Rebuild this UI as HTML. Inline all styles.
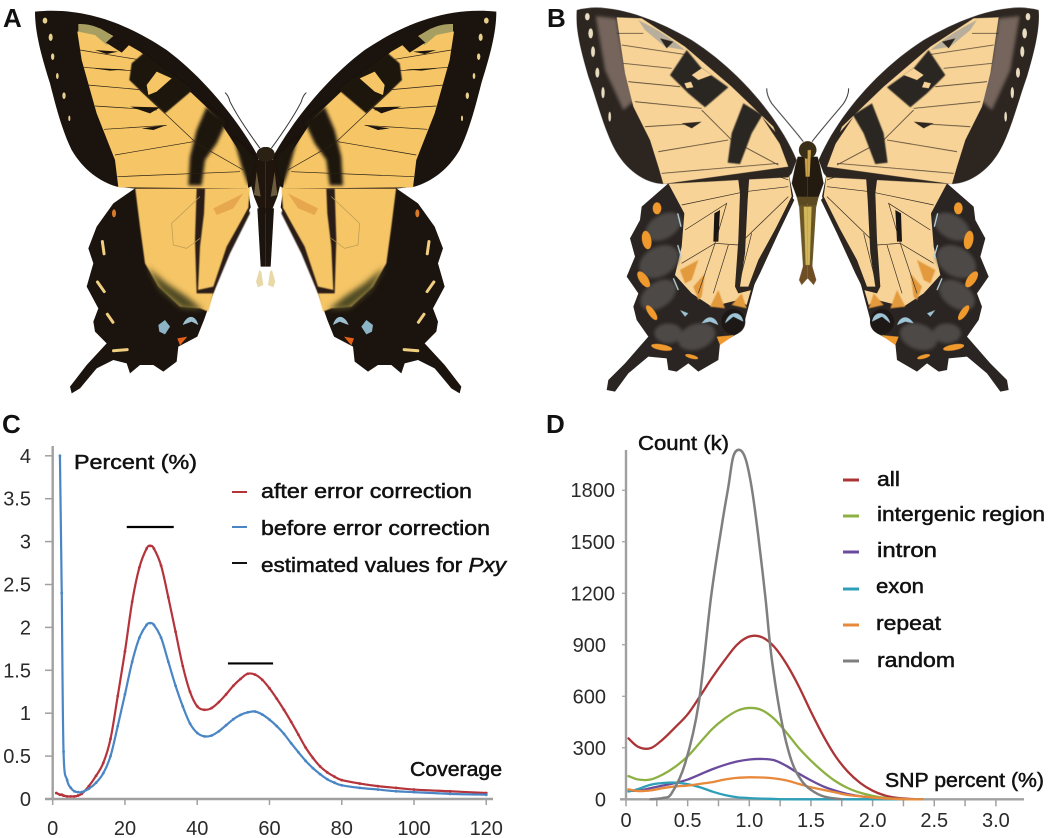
<!DOCTYPE html>
<html lang="en">
<head>
<meta charset="utf-8">
<title>Swallowtail butterflies with coverage and SNP charts</title>
<style>
html,body{margin:0;padding:0;background:#fff;}
svg{display:block;}
text{font-family:"Liberation Sans",sans-serif;fill:#1c1c1c;}
.lbl{font-size:20px;fill:#111;stroke:#111;stroke-width:.5px;}
.tick{font-size:20px;fill:#2a2a2a;}
.panel{font-size:26px;font-weight:bold;fill:#111;}
</style>
</head>
<body>
<svg id="fig" xmlns="http://www.w3.org/2000/svg" width="1050" height="838" viewBox="0 0 1050 838">
<defs>
<filter id="soft" x="-20%" y="-20%" width="140%" height="140%"><feGaussianBlur stdDeviation="5"/></filter>
<filter id="soft2" x="-10%" y="-10%" width="120%" height="120%"><feGaussianBlur stdDeviation="1.2"/></filter>
<filter id="soft3" x="-30%" y="-30%" width="160%" height="160%"><feGaussianBlur stdDeviation="9"/></filter>

<g id="half-a">
  <path fill="#1b130e" d="M405,565 L745,570 L752,622 L690,730 L640,880 L612,960 L592,1010 L535,1040 L530,1085 L490,1115 L460,1095 L420,1095 L390,1120 L380,1090 L340,1080 L290,1105 L240,1165 L215,1180 L210,1160 L260,1095 L320,1030 L285,995 L280,965 L295,925 L260,860 L280,790 L265,745 L290,680 L340,610Z"/>
  <path fill="#f5c566" filter="url(#soft2)" d="M405,560 L750,560 L745,625 L690,730 L640,880 L625,935 L600,925 L540,920 L475,860 L435,790 L420,680Z"/>
  <path fill="#4d4a20" filter="url(#soft3)" d="M440,800 L480,870 L545,925 L610,930 L560,890 L500,850Z"/>
  <path fill="#2a1d12" filter="url(#soft2)" d="M590,566 L615,566 L612,640 L600,740 L594,870 L640,860 L680,740 L745,625 L750,640 L690,760 L640,880 L590,880 L585,720Z"/>
  <path fill="none" stroke="#b89a55" stroke-width="2" d="M515,670 L520,735 L560,745 L600,715 M515,670 L600,590"/>
  <path fill="#e7a74f" d="M640,625 L730,580 L700,625 L650,645Z M670,550 L710,550 L680,568Z"/>
  <g fill="#f0cf80">
    <rect x="305" y="720" width="9" height="46" rx="4" transform="rotate(-8 310 742)"/>
    <rect x="298" y="838" width="9" height="44" rx="4" transform="rotate(-35 303 860)"/>
    <rect x="326" y="936" width="9" height="38" rx="4" transform="rotate(-35 330 955)"/>
    <rect x="358" y="1026" width="9" height="50" rx="4" transform="rotate(85 362 1050)"/>
  </g>
  <ellipse cx="342" cy="640" rx="6" ry="12" fill="#d97a2b"/>
  <path fill="#8db4c6" d="M475,975 L495,960 L510,980 L495,1003 L478,995Z"/>
  <path fill="#9cc0d0" d="M548,975 C560,945 585,940 595,975 L575,965Z"/>
  <path fill="#e5611a" d="M532,1015 L562,1010 L540,1036Z"/>

  <path fill="#1b130e" d="M105,35 C250,20 380,70 500,150 C620,240 720,370 775,470 L772,550 L740,566 L405,566 L350,560 C300,545 250,510 215,450 C190,400 170,330 150,250 C125,170 105,100 105,35Z"/>
  <path fill="#f5c566" d="M232,95 L300,85 L420,155 L560,265 L650,350 L735,480 L745,566 L355,562 L345,480 L290,340 L245,180Z"/>
  <path fill="#a79f62" d="M235,72 C285,70 320,95 345,115 L320,135 L285,105 L235,95Z"/>
  <path fill="#1b130e" d="M340,108 L392,130 L365,158 L318,128Z"/>
  <path fill="#1b130e" filter="url(#soft2)" d="M430,160 L520,225 L580,268 L495,340 L430,280 L388,240 L395,190Z"/>
  <path fill="#f5c566" d="M440,255 L470,215 L515,235 L470,275 L445,285Z"/>
  <path fill="#1b130e" filter="url(#soft)" d="M620,320 L680,365 L650,430 L615,480 L605,556 L565,556 L570,470 L590,390Z"/>
  <path fill="#1b130e" filter="url(#soft)" d="M700,410 L770,480 L745,556 L725,500Z"/>
  <path fill="none" stroke="#2a2015" stroke-width="2" d="M240,150 L410,178 M246,202 L395,212 M262,255 L432,270 M285,318 L470,330 M312,388 L500,376 M345,465 L580,425 M352,530 L720,515 M420,270 L590,430 L730,510"/>
  <path fill="#1b130e" d="M390,320 L480,322 L450,340Z M425,385 L500,375 L460,390Z M285,150 L355,155 L320,162Z M280,205 L380,208 L330,212Z"/>
  <g fill="#e7cf8c"><ellipse cx="135" cy="62" rx="7" ry="9"/><ellipse cx="152" cy="112" rx="6" ry="11"/><ellipse cx="158" cy="170" rx="5" ry="10"/><ellipse cx="172" cy="228" rx="4" ry="9"/><ellipse cx="192" cy="287" rx="5" ry="10"/><ellipse cx="208" cy="355" rx="3" ry="8"/></g>

  <path fill="#1f150d" d="M772,480 L797,470 L797,640 L778,630 L762,590 L752,550 L765,510Z"/>
  <ellipse cx="797" cy="463" rx="27" ry="22" fill="#2a2114"/>
  <path fill="#6b5c3e" d="M770,515 L782,590 L762,585Z"/>
  <path fill="#1b130e" d="M772,625 L797,625 L797,800 L782,800Z"/>
  <path fill="#e8d9a8" d="M778,810 L768,845 L774,862 L790,855 L784,815Z"/>
  <path fill="none" stroke="#333" stroke-width="3" d="M780,445 C740,390 705,335 690,305 C686,290 680,282 675,278"/>
</g>

<g id="half-b">
  <path fill="#2a2522" d="M430,550 L790,515 L805,590 L760,680 L700,810 L660,960 L640,1000 L585,1030 L580,1080 L520,1115 L490,1090 L455,1115 L430,1110 L425,1075 L370,1070 L310,1120 L270,1175 L245,1170 L250,1140 L300,1090 L370,1010 L335,960 L325,920 L340,880 L305,830 L330,770 L315,715 L345,660 L350,620Z"/>
  <path fill="#f7d397" d="M430,550 L790,515 L800,590 L755,680 L695,810 L665,915 L640,900 L560,920 L500,880 L450,825 L470,740 L478,640Z"/>
  <g fill="#e39a3c" filter="url(#soft2)"><path d="M465,810 L520,780 L500,840 L480,850Z"/><path d="M505,860 L540,820 L530,890 L520,900Z"/><path d="M555,920 L580,870 L600,925Z"/><path d="M620,915 L650,880 L665,925Z"/></g>
  <path fill="#2c2520" d="M635,500 L675,500 L668,600 L660,760 L645,860 L670,860 L700,780 L755,680 L800,590 L808,600 L760,700 L705,820 L680,870 L640,880 L630,860 L640,720 L645,580Z"/>
  <path fill="#1a1512" d="M568,640 L585,630 L580,725 L565,725Z"/>
  <path fill="none" stroke="#33291f" stroke-width="2" d="M430,550 L680,500 L790,540 M470,615 L660,575 L790,560 M480,690 L605,610 L570,730 L640,735 L790,590 M470,790 L570,730 L520,880 M610,735 L565,880 M680,700 L640,860"/>
  <g fill="#4e4a47" filter="url(#soft)">
    <ellipse cx="415" cy="680" rx="58" ry="36" transform="rotate(-30 415 680)"/>
    <ellipse cx="402" cy="785" rx="64" ry="44" transform="rotate(-30 402 785)"/>
    <ellipse cx="400" cy="885" rx="60" ry="38" transform="rotate(-35 400 885)"/>
    <ellipse cx="515" cy="1010" rx="58" ry="38" transform="rotate(-20 515 1010)"/>
    <ellipse cx="430" cy="1000" rx="42" ry="30"/>
  </g>
  <path fill="none" stroke="#b9d4e0" stroke-width="4" d="M458,640 L468,680 M458,735 L470,775 M445,835 L460,870"/>
  <g fill="#f09a2e">
    <ellipse cx="396" cy="625" rx="13" ry="18"/>
    <ellipse cx="365" cy="720" rx="14" ry="28" transform="rotate(-10 365 720)"/>
    <ellipse cx="356" cy="838" rx="13" ry="28" transform="rotate(-35 356 838)"/>
    <ellipse cx="380" cy="938" rx="10" ry="26" transform="rotate(-35 380 938)"/>
    <ellipse cx="410" cy="1042" rx="32" ry="9" transform="rotate(10 410 1042)"/>
    <ellipse cx="500" cy="1070" rx="20" ry="6" transform="rotate(15 500 1070)"/>
    <path d="M575,1010 L628,1005 L585,1035Z"/>
  </g>
  <ellipse cx="625" cy="965" rx="36" ry="38" fill="#1d1815"/>
  <path fill="#9fc4d6" d="M600,970 C610,930 650,930 655,965 L625,950Z"/>
  <path fill="#9fc4d6" d="M530,970 C545,945 570,945 580,975 L555,965Z M465,930 L490,940 L480,950Z"/>

  <path fill="#2c2520" d="M155,30 C250,5 380,50 500,120 C640,210 760,350 815,480 L800,520 L790,532 L415,552 C360,550 300,510 265,440 C235,380 215,300 190,230 C170,160 150,90 155,30Z"/>
  <path fill="#75655b" filter="url(#soft)" d="M212,48 L275,55 L300,200 L330,300 L295,330 L240,210Z"/>
  <path fill="#f7d397" d="M275,52 L350,55 L480,140 L620,260 L745,380 L790,500 L415,552 L400,500 L375,420 L325,320 L300,220Z"/>
  <path fill="#b8ae9c" d="M340,60 C400,90 430,110 480,150 L420,140 L360,90Z"/>
  <path fill="#2c2520" d="M405,115 L445,125 L425,145Z"/>
  <path fill="#2c2520" filter="url(#soft2)" d="M485,150 L530,205 L610,262 L540,322 L490,280 L435,225Z"/>
  <path fill="#f7d397" d="M500,225 L530,205 L560,225 L520,240Z M478,250 L498,245 L505,262 L485,265Z"/>
  <path fill="#2c2520" filter="url(#soft2)" d="M655,310 L712,345 L680,400 L645,492 L608,488 L620,400Z"/>
  <path fill="#2c2520" d="M710,350 L790,440 L812,490 L770,440Z"/>
  <path fill="none" stroke="#33291f" stroke-width="2" d="M275,100 L355,100 M290,135 L490,165 M295,190 L440,205 M310,245 L465,260 M330,305 L530,325 M360,380 L520,370 M400,455 L610,420 M410,520 L760,490 M530,330 L620,420 L760,495"/>
  <path fill="#2c2520" d="M470,370 L530,365 L500,385Z"/>
  <g fill="#e9dcc0"><ellipse cx="187" cy="50" rx="7" ry="11"/><ellipse cx="197" cy="100" rx="7" ry="15"/><ellipse cx="204" cy="155" rx="6" ry="16"/><ellipse cx="217" cy="218" rx="6" ry="15"/><ellipse cx="234" cy="278" rx="5" ry="17"/><ellipse cx="254" cy="350" rx="4" ry="15"/></g>

  <path fill="#231a10" d="M818,470 L848,470 L848,610 L822,610 L800,550 L810,500Z"/>
  <ellipse cx="848" cy="450" rx="26" ry="26" fill="#3a2e18"/>
  <path fill="#c9a24a" d="M838,450 L848,450 L848,530 L842,530Z"/>
  <path fill="#5c4a22" d="M815,590 L848,590 L848,620 L822,620Z"/>
  <path fill="#6a5526" d="M822,615 L848,615 L848,800 L834,800Z"/>
  <path fill="#d2b75c" d="M836,620 L848,620 L848,800 L842,800Z"/>
  <path fill="#6f4d25" d="M835,795 L822,840 L830,855 L848,835 L848,795Z"/>
  <path fill="none" stroke="#333" stroke-width="3" d="M835,425 C800,380 760,335 740,310 C730,295 725,280 725,265"/>
</g>
</defs>

<text class="panel" x="3" y="27">A</text>
<text class="panel" x="547" y="27">B</text>
<text class="panel" x="2" y="433">C</text>
<text class="panel" x="546" y="433">D</text>

<g transform="scale(.33333)">
  <use href="#half-a"/>
  <use href="#half-a" transform="translate(1594,0) scale(-1,1)"/>
</g>
<g transform="translate(525,0) scale(.33333)">
  <use href="#half-b"/>
  <use href="#half-b" transform="translate(1696,0) scale(-1,1)"/>
</g>

<g id="chart-c"></g>
<g id="chart-d"></g>

<text class="lbl" x="74" y="469" textLength="123" lengthAdjust="spacingAndGlyphs">Percent (%)</text>
<text class="lbl" x="410" y="776" textLength="92" lengthAdjust="spacingAndGlyphs">Coverage</text>
<g>
  <line x1="232" x2="247" y1="492" y2="492" stroke="#b5343c" stroke-width="2"/>
  <text class="lbl" x="261" y="498" textLength="211" lengthAdjust="spacingAndGlyphs">after error correction</text>
  <line x1="232" x2="247" y1="527" y2="527" stroke="#4a86c5" stroke-width="2"/>
  <text class="lbl" x="261" y="535" textLength="229" lengthAdjust="spacingAndGlyphs">before error correction</text>
  <line x1="232" x2="247" y1="563" y2="563" stroke="#111" stroke-width="2"/>
  <text class="lbl" x="261" y="572" textLength="245" lengthAdjust="spacingAndGlyphs">estimated values for <tspan font-style="italic">Pxy</tspan></text>
</g>

<text class="lbl" x="638" y="450" textLength="91" lengthAdjust="spacingAndGlyphs">Count (k)</text>
<text class="lbl" x="885" y="787" textLength="159" lengthAdjust="spacingAndGlyphs">SNP percent (%)</text>
<g>
  <line x1="843" x2="859" y1="480" y2="480" stroke="#ab3436" stroke-width="3"/>
  <text class="lbl" x="877" y="486" textLength="23" lengthAdjust="spacingAndGlyphs">all</text>
  <line x1="843" x2="859" y1="516" y2="516" stroke="#8db042" stroke-width="3"/>
  <text class="lbl" x="877" y="521" textLength="168" lengthAdjust="spacingAndGlyphs">intergenic region</text>
  <line x1="843" x2="859" y1="552" y2="552" stroke="#6a4b9c" stroke-width="3"/>
  <text class="lbl" x="877" y="557" textLength="60" lengthAdjust="spacingAndGlyphs">intron</text>
  <line x1="843" x2="859" y1="589" y2="589" stroke="#2f9fb8" stroke-width="3"/>
  <text class="lbl" x="876" y="593" textLength="48" lengthAdjust="spacingAndGlyphs">exon</text>
  <line x1="843" x2="859" y1="625" y2="625" stroke="#e8883a" stroke-width="3"/>
  <text class="lbl" x="876" y="630" textLength="65" lengthAdjust="spacingAndGlyphs">repeat</text>
  <line x1="843" x2="859" y1="661" y2="661" stroke="#7f7f7f" stroke-width="3"/>
  <text class="lbl" x="877" y="667" textLength="78" lengthAdjust="spacingAndGlyphs">random</text>
</g>
</svg>

<script>
var coverageValues = [1,2,2.5,3,4,5,6,7,8,10,12,14,16,18,20,22,24,26,27,28,30,32,34,36,38,40,42,44,46,48,50,52,54,56,58,60,62,64,66,68,70,72,74,76,78,80,85,90,95,100,110,120];
var afterCorrection = [0.07,0.05,0.05,0.04,0.03,0.03,0.03,0.04,0.06,0.15,0.27,0.42,0.7,1.2,1.72,2.3,2.7,2.92,2.95,2.92,2.72,2.35,1.95,1.55,1.25,1.08,1.04,1.06,1.13,1.22,1.32,1.40,1.46,1.45,1.39,1.29,1.17,1.04,0.9,0.75,0.6,0.48,0.38,0.31,0.26,0.22,0.18,0.15,0.13,0.11,0.09,0.07];
var beforeCorrection = [null,4.0,2.4,0.55,0.22,0.13,0.09,0.08,0.08,0.12,0.19,0.3,0.5,0.85,1.22,1.6,1.88,2.03,2.05,2.03,1.88,1.6,1.32,1.08,0.88,0.77,0.73,0.74,0.79,0.86,0.93,0.98,1.01,1.02,0.985,0.925,0.85,0.76,0.65,0.545,0.445,0.36,0.29,0.23,0.19,0.16,0.13,0.11,0.09,0.08,0.06,0.05];
var coverageXTicks = [0,20,40,60,80,100,120];
var coverageYTicks = [0,0.5,1,1.5,2,2.5,3,3.5,4];
var estimatedStart = [20.5,48.5];
var estimatedEnd = [33.5,61];
var estimatedLevel = [3.17,1.58];

var snpPercent = [0.02,0.1,0.2,0.3,0.4,0.5,0.6,0.7,0.8,0.9,1.0,1.1,1.2,1.3,1.4,1.5,1.6,1.7,1.8,1.9,2.0,2.1,2.2,2.3,2.4];
var snpAll = [355,305,298,350,420,495,600,710,810,900,948,945,890,790,660,510,370,250,160,95,50,22,8,2,0];
var snpIntergenic = [135,115,115,145,190,250,330,410,470,515,532,520,470,390,300,225,160,105,65,38,20,8,3,0,0];
var snpIntron = [50,50,65,80,95,115,145,175,200,220,232,235,228,195,150,110,75,50,30,18,9,4,1,0,0];
var snpExon = [45,60,85,95,97,88,70,45,25,12,7,4,2,0,0,0,0,0,0,0,0,0,0,0,0];
var snpRepeat = [58,48,52,65,75,80,90,100,115,125,128,127,122,110,90,70,55,40,25,18,10,5,2,0,0];
var randomPercent = [0.2,0.3,0.37,0.48,0.59,0.69,0.78,0.83,0.87,0.92,0.97,1.02,1.07,1.13,1.18,1.26,1.34,1.42,1.5,1.61,1.75];
var snpRandom = [0,8,35,210,560,1180,1608,1820,1996,2035,1982,1812,1550,1180,830,462,229,113,55,15,0];
var snpXTicks = [0,0.25,0.5,0.75,1,1.25,1.5,1.75,2,2.25,2.5,2.75,3];
var snpXLabels = ['0','','0.5','','1.0','','1.5','','2.0','','2.5','','3.0'];
var snpYTicks = [0,300,600,900,1200,1500,1800];

var NS = 'http://www.w3.org/2000/svg';
function make(parent, tag, attrs, text) {
  var el = document.createElementNS(NS, tag);
  for (var k in attrs) { el.setAttribute(k, attrs[k]); }
  if (text !== undefined) { el.textContent = text; }
  parent.appendChild(el);
  
  return el;
}
function smoothPath(xs, ys, fx, fy) {
  var p = [];
  for (var i = 0; i < xs.length; i++) {
    if (ys[i] !== null) { p.push([fx(xs[i]), fy(ys[i])]); }
  }
  var d = 'M' + p[0][0].toFixed(2) + ',' + p[0][1].toFixed(2);
  for (var j = 0; j < p.length - 1; j++) {
    var a = p[Math.max(j - 1, 0)], b = p[j], c = p[j + 1], e = p[Math.min(j + 2, p.length - 1)];
    var c1x = b[0] + (c[0] - a[0]) / 6, c1y = b[1] + (c[1] - a[1]) / 6;
    var c2x = c[0] - (e[0] - b[0]) / 6, c2y = c[1] - (e[1] - b[1]) / 6;
    d += 'C' + c1x.toFixed(2) + ',' + c1y.toFixed(2) + ' ' + c2x.toFixed(2) + ',' + c2y.toFixed(2) + ' ' + c[0].toFixed(2) + ',' + c[1].toFixed(2);
  }
  return d;
}

/* Panel C */
var gc = document.getElementById('chart-c');
var xC = function (v) { return 52.7 + v * 3.613; };
var yC = function (v) { return 799 - v * 85.8; };
var axisColor = '#a0a0a0';

var yAxisC = make(gc, 'line', {x1: xC(0), x2: xC(0), y1: 446, y2: yC(0), stroke: axisColor, 'stroke-width': 2.4});

var xAxisC = make(gc, 'line', {x1: 45, x2: 493, y1: yC(0), y2: yC(0), stroke: axisColor, 'stroke-width': 2.4});


coverageXTicks.forEach(function (t) {
  var tk = make(gc, 'line', {x1: xC(t), x2: xC(t), y1: yC(0), y2: yC(0) + 6, stroke: axisColor, 'stroke-width': 1.5});
  
  var lb = make(gc, 'text', {x: xC(t), y: 835, 'text-anchor': 'middle', 'class': 'tick'}, String(t));
  
});
coverageYTicks.forEach(function (t) {
  var tk = make(gc, 'line', {x1: 45, x2: xC(0), y1: yC(t), y2: yC(t), stroke: axisColor, 'stroke-width': 1.5});
  
  var lb = make(gc, 'text', {x: 31, y: yC(t) + 7, 'text-anchor': 'end', 'class': 'tick'}, String(t));
  
});

function drawCoverageSeries(values, color) {
  var ln = make(gc, 'path', {d: smoothPath(coverageValues, values, xC, yC), fill: 'none', stroke: color, 'stroke-width': 2.2, 'stroke-linejoin': 'round'});
  
  values.forEach(function (v, i) {
    if (v === null) { return; }
    var pt = make(gc, 'circle', {cx: xC(coverageValues[i]), cy: yC(v), r: 1.4, fill: color});
    
  });
}
drawCoverageSeries(afterCorrection, '#b5343c');
drawCoverageSeries(beforeCorrection, '#4a86c5');

estimatedLevel.forEach(function (v, i) {
  var bar = make(gc, 'line', {x1: xC(estimatedStart[i]), x2: xC(estimatedEnd[i]), y1: yC(v), y2: yC(v), stroke: '#000', 'stroke-width': 2.2});
  
});

/* Panel D */
var gd = document.getElementById('chart-d');
var xD = function (v) { return 626 + v * 123.3; };
var yD = function (v) { return 799.3 - v * 0.1717; };

var yAxisD = make(gd, 'line', {x1: xD(0), x2: xD(0), y1: 450, y2: yD(0), stroke: axisColor, 'stroke-width': 2.4});

var xAxisD = make(gd, 'line', {x1: 620, x2: 1024, y1: yD(0), y2: yD(0), stroke: axisColor, 'stroke-width': 2.4});


snpXTicks.forEach(function (t, i) {
  var tk = make(gd, 'line', {x1: xD(t), x2: xD(t), y1: yD(0), y2: yD(0) + 7, stroke: axisColor, 'stroke-width': 1.5});
  
  if (snpXLabels[i]) {
    var lb = make(gd, 'text', {x: xD(t), y: 827, 'text-anchor': 'middle', 'class': 'tick'}, snpXLabels[i]);
    
  }
});
snpYTicks.forEach(function (t) {
  var tk = make(gd, 'line', {x1: 622, x2: xD(0), y1: yD(t), y2: yD(t), stroke: axisColor, 'stroke-width': 1.2});
  
  var lb = make(gd, 'text', {x: t >= 1000 ? 615 : 606, y: yD(t) + 7, 'text-anchor': 'end', 'class': 'tick'}, String(t));
  
});

function drawSnpSeries(xs, values, color, width) {
  var ln = make(gd, 'path', {d: smoothPath(xs, values, xD, yD), fill: 'none', stroke: color, 'stroke-width': width, 'stroke-linejoin': 'round', 'stroke-linecap': 'round'});
  
}
drawSnpSeries(snpPercent, snpAll, '#ab3436', 2.3);
drawSnpSeries(snpPercent, snpIntergenic, '#8db042', 2.3);
drawSnpSeries(snpPercent, snpIntron, '#6a4b9c', 2.3);
drawSnpSeries(snpPercent, snpExon, '#2f9fb8', 2.3);
drawSnpSeries(snpPercent, snpRepeat, '#e8883a', 2.3);
drawSnpSeries(randomPercent, snpRandom, '#7f7f7f', 2.5);
</script>
</body>
</html>
